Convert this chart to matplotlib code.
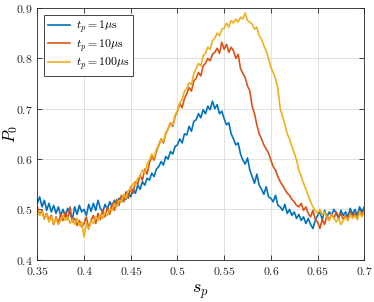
import numpy as np
import matplotlib
matplotlib.use('Agg')
import matplotlib.pyplot as plt
from matplotlib.ticker import FuncFormatter

plt.rcParams['mathtext.fontset'] = 'cm'
plt.rcParams['font.family'] = 'serif'
plt.rcParams['font.serif'] = ['DejaVu Serif']

# eje s_p, paso 0.0025
sp = np.linspace(0.35, 0.70, 141)

P_1us = [
    0.512, 0.525, 0.505, 0.518, 0.498, 0.512, 0.495, 0.508,
    0.492, 0.505, 0.488, 0.500, 0.485, 0.502, 0.492, 0.480,
    0.505, 0.490, 0.508, 0.495, 0.500, 0.488, 0.510, 0.496,
    0.512, 0.498, 0.518, 0.502, 0.495, 0.510, 0.500, 0.515,
    0.505, 0.518, 0.508, 0.522, 0.515, 0.528, 0.520, 0.532,
    0.525, 0.540, 0.532, 0.548, 0.540, 0.555, 0.548, 0.562,
    0.558, 0.572, 0.565, 0.580, 0.585, 0.595, 0.588, 0.605,
    0.600, 0.615, 0.610, 0.625, 0.628, 0.640, 0.632, 0.650,
    0.648, 0.665, 0.655, 0.675, 0.678, 0.690, 0.682, 0.698,
    0.690, 0.705, 0.698, 0.715, 0.700, 0.708, 0.690, 0.695,
    0.680, 0.668, 0.672, 0.650, 0.640, 0.628, 0.632, 0.610,
    0.598, 0.590, 0.602, 0.578, 0.565, 0.552, 0.570, 0.548,
    0.540, 0.530, 0.545, 0.525, 0.522, 0.515, 0.528, 0.508,
    0.505, 0.498, 0.510, 0.492, 0.500, 0.488, 0.495, 0.482,
    0.490, 0.478, 0.485, 0.472, 0.482, 0.470, 0.462, 0.478,
    0.488, 0.495, 0.480, 0.498, 0.485, 0.495, 0.488, 0.500,
    0.492, 0.482, 0.498, 0.488, 0.495, 0.485, 0.502, 0.490,
    0.500, 0.488, 0.505, 0.495, 0.505]

P_10us = [
    0.505, 0.490, 0.498, 0.482, 0.492, 0.478, 0.488, 0.470,
    0.485, 0.472, 0.490, 0.478, 0.495, 0.480, 0.505, 0.475,
    0.482, 0.468, 0.478, 0.465, 0.472, 0.485, 0.462, 0.478,
    0.488, 0.472, 0.492, 0.480, 0.498, 0.485, 0.505, 0.490,
    0.512, 0.498, 0.520, 0.508, 0.528, 0.515, 0.535, 0.522,
    0.545, 0.532, 0.555, 0.550, 0.568, 0.558, 0.580, 0.570,
    0.592, 0.605, 0.598, 0.615, 0.628, 0.640, 0.632, 0.650,
    0.660, 0.672, 0.665, 0.685, 0.695, 0.710, 0.702, 0.720,
    0.730, 0.742, 0.735, 0.755, 0.760, 0.772, 0.765, 0.785,
    0.790, 0.800, 0.795, 0.808, 0.812, 0.820, 0.810, 0.832,
    0.818, 0.828, 0.812, 0.822, 0.815, 0.800, 0.808, 0.780,
    0.770, 0.762, 0.745, 0.735, 0.705, 0.690, 0.668, 0.650,
    0.640, 0.628, 0.620, 0.612, 0.598, 0.585, 0.578, 0.565,
    0.555, 0.548, 0.540, 0.532, 0.528, 0.520, 0.515, 0.508,
    0.505, 0.512, 0.498, 0.505, 0.492, 0.485, 0.498, 0.480,
    0.475, 0.462, 0.480, 0.470, 0.488, 0.478, 0.492, 0.482,
    0.495, 0.485, 0.492, 0.480, 0.488, 0.478, 0.495, 0.485,
    0.492, 0.480, 0.498, 0.488, 0.500]

P_100us = [
    0.500, 0.488, 0.495, 0.480, 0.490, 0.475, 0.485, 0.472,
    0.482, 0.470, 0.478, 0.488, 0.478, 0.485, 0.472, 0.480,
    0.470, 0.482, 0.468, 0.475, 0.445, 0.472, 0.460, 0.478,
    0.472, 0.485, 0.478, 0.490, 0.482, 0.495, 0.488, 0.500,
    0.498, 0.512, 0.505, 0.518, 0.515, 0.530, 0.522, 0.538,
    0.540, 0.552, 0.548, 0.562, 0.565, 0.578, 0.572, 0.590,
    0.598, 0.610, 0.602, 0.620, 0.625, 0.640, 0.635, 0.652,
    0.660, 0.672, 0.668, 0.688, 0.695, 0.712, 0.718, 0.735,
    0.740, 0.752, 0.748, 0.770, 0.780, 0.790, 0.785, 0.805,
    0.810, 0.822, 0.818, 0.835, 0.840, 0.850, 0.845, 0.858,
    0.860, 0.870, 0.862, 0.875, 0.870, 0.878, 0.872, 0.882,
    0.878, 0.890, 0.875, 0.872, 0.868, 0.858, 0.862, 0.845,
    0.838, 0.825, 0.815, 0.800, 0.782, 0.772, 0.760, 0.740,
    0.700, 0.685, 0.668, 0.650, 0.640, 0.625, 0.612, 0.598,
    0.578, 0.565, 0.552, 0.540, 0.528, 0.515, 0.505, 0.498,
    0.492, 0.500, 0.488, 0.495, 0.485, 0.478, 0.490, 0.482,
    0.475, 0.482, 0.470, 0.478, 0.485, 0.478, 0.490, 0.482,
    0.488, 0.480, 0.495, 0.485, 0.495]

etiquetas = [r'$t_p = 1\mu\mathrm{s}$', r'$t_p = 10\mu\mathrm{s}$', r'$t_p = 100\mu\mathrm{s}$']
colores = ['#0072BD', '#D95319', '#EDB120']

fig = plt.figure(figsize=(3.74, 3.02), dpi=100)
ax = fig.add_axes([0.0998, 0.140, 0.8742, 0.8335])

for P, lab, c in zip([P_1us, P_10us, P_100us], etiquetas, colores):
    ax.plot(sp, P, color=c, lw=1.2, label=lab)

ax.set_xlim(0.35, 0.70)
ax.set_ylim(0.4, 0.9)
ax.set_xticks(np.arange(0.35, 0.701, 0.05))
ax.set_yticks(np.arange(0.4, 0.901, 0.1))
fmt = FuncFormatter(lambda v, pos: f'${v:g}$')
ax.xaxis.set_major_formatter(fmt)
ax.yaxis.set_major_formatter(fmt)
ax.tick_params(direction='in', top=True, right=True, labelsize=8.5,
               colors='#262626', length=3.5, width=0.6)
for s in ax.spines.values():
    s.set_color('#262626')
    s.set_linewidth(0.6)
ax.grid(True, color='#dcdcdc', lw=0.6)

ax.set_xlabel(r'$s_p$', fontsize=13, labelpad=4)
ax.set_ylabel(r'$P_0$', fontsize=12)
ax.yaxis.set_label_coords(-0.053, 0.5)

leg = ax.legend(loc='upper left', fontsize=8.5, handlelength=1.9, handletextpad=0.5,
                borderpad=0.3, labelspacing=0.15, fancybox=False, framealpha=1,
                edgecolor='#262626', borderaxespad=0.6)
leg.get_frame().set_linewidth(0.6)

fig.savefig('out.png', dpi=100)
